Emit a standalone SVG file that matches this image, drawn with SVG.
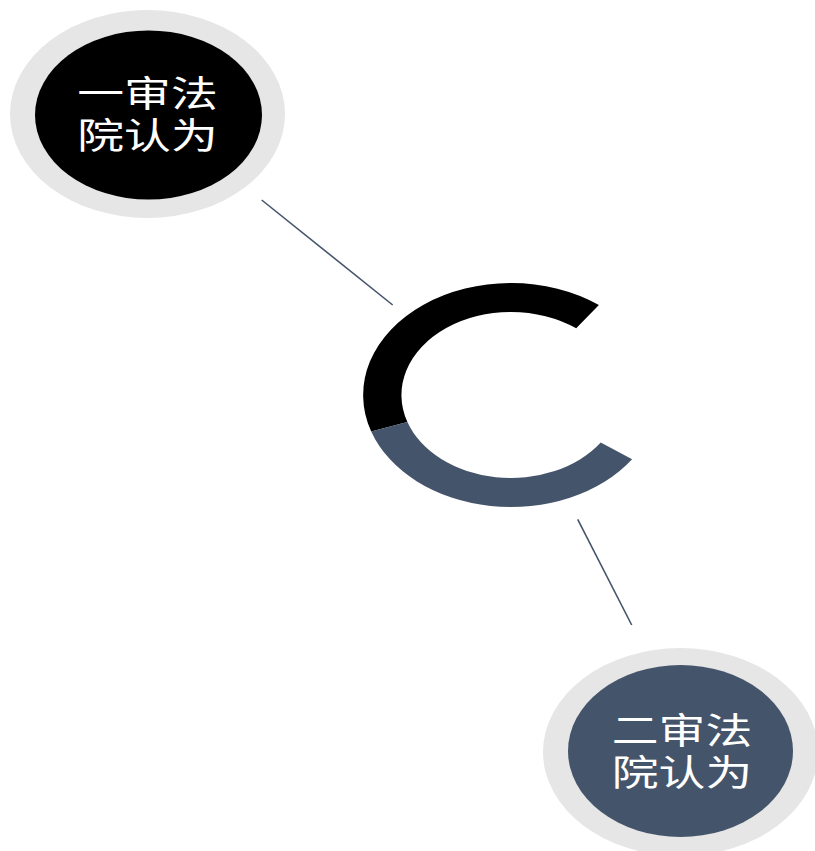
<svg xmlns="http://www.w3.org/2000/svg" width="815" height="851" viewBox="0 0 815 851">
<style>
.ring{fill:#E6E6E6}
.lbl{fill:#FFFFFF;font-family:"Noto Sans CJK SC","Noto Sans",sans-serif;font-size:36px;text-anchor:middle}
.conn{stroke:#44546A;stroke-width:1.6;fill:none}
</style>
<rect width="815" height="851" fill="#FFFFFF"/>
<g id="connectors">
<line class="conn" x1="261.7" y1="200" x2="392.7" y2="305"/>
<line class="conn" x1="577.7" y1="519.3" x2="631.7" y2="625"/>
</g>
<g id="center-arc">
<path d="M598.9,305 A147.84,112 0 0 0 371.2,431.5 L407.4,422 A109.56,83 0 0 1 576.2,328.3 Z" fill="#000000"/>
<path d="M371.2,431.5 A147.84,112 0 0 0 632.1,459.2 L600.75,442.6 A109.56,83 0 0 1 407.4,422 Z" fill="#44546A"/>
</g>
<g id="node-first">
<ellipse class="ring" cx="147.5" cy="114" rx="137.5" ry="104"/>
<ellipse cx="148.5" cy="115" rx="113.5" ry="84.5" fill="#000000"/>
<g transform="translate(147.5,0) scale(1.3,1)">
<text class="lbl" x="0" y="107">一审法</text>
<text class="lbl" x="0" y="149">院认为</text>
</g>
</g>
<g id="node-second">
<ellipse class="ring" cx="680.5" cy="752" rx="137.5" ry="104"/>
<ellipse cx="680.5" cy="751" rx="112.5" ry="86" fill="#44546A"/>
<g transform="translate(682,0) scale(1.3,1)">
<text class="lbl" x="0" y="744">二审法</text>
<text class="lbl" x="0" y="786">院认为</text>
</g>
</g>
</svg>
